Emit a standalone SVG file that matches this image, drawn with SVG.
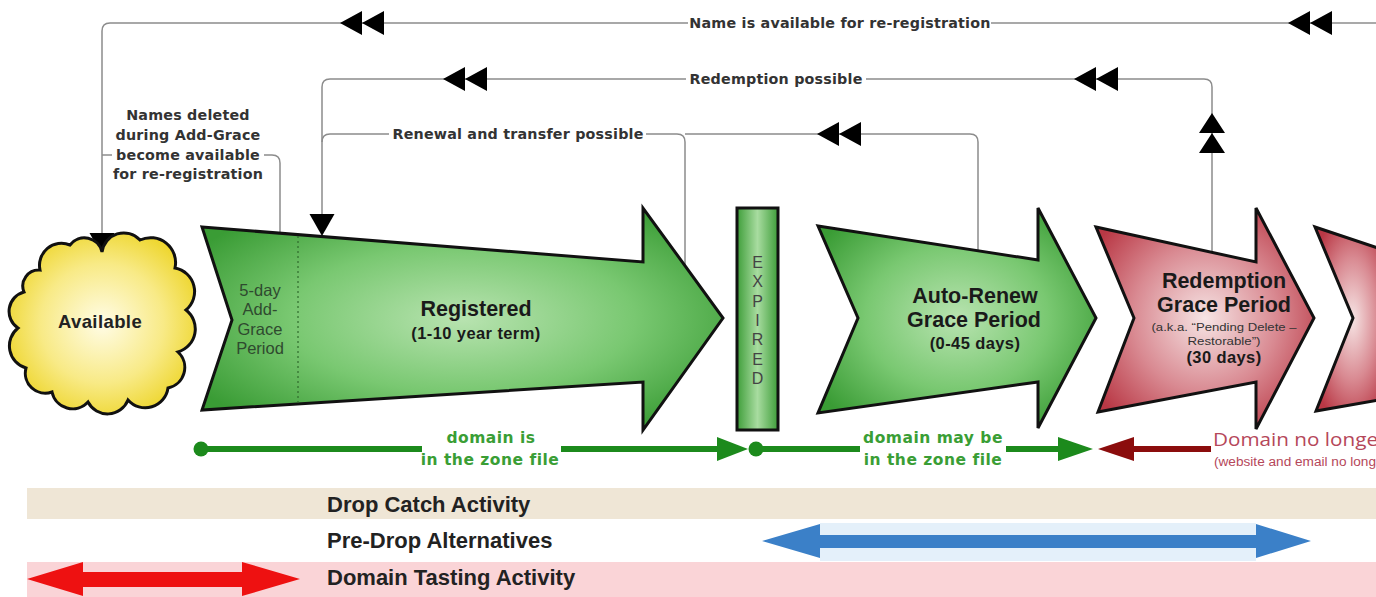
<svg xmlns="http://www.w3.org/2000/svg" width="1376" height="597" viewBox="0 0 1376 597">
<style>
.conn{fill:none;stroke:#8c8c8c;stroke-width:1.5}
.lbl{font-family:"DejaVu Sans",Verdana,sans-serif;font-weight:bold;font-size:14.3px;letter-spacing:0.2px;fill:#333;text-anchor:middle}
.shape{stroke:#111;stroke-width:3;stroke-linejoin:miter}
.big{font-family:"Liberation Sans",Arial,sans-serif;font-weight:bold;font-size:21.5px;fill:#1a1a1a;text-anchor:middle}
.sub{font-family:"Liberation Sans",Arial,sans-serif;font-weight:bold;font-size:16.5px;letter-spacing:0.4px;fill:#1a1a1a;text-anchor:middle}
.zone{font-family:"DejaVu Sans",Verdana,sans-serif;font-weight:bold;font-size:15.5px;letter-spacing:0.5px;fill:#3a9e35;text-anchor:middle}
.band{font-family:"Liberation Sans",Arial,sans-serif;font-weight:bold;font-size:22px;fill:#222}
.gl{stroke:#1c8a1c;stroke-width:6;fill:none}
</style>
<defs>
<radialGradient id="gGreen" cx="0.5" cy="0.5" r="0.6">
<stop offset="0" stop-color="#b8e3b0"/>
<stop offset="0.55" stop-color="#79c871"/>
<stop offset="1" stop-color="#3a9c35"/>
</radialGradient>
<radialGradient id="gRed" cx="0.5" cy="0.5" r="0.6">
<stop offset="0" stop-color="#f6e4e4"/>
<stop offset="0.55" stop-color="#d98a92"/>
<stop offset="1" stop-color="#b93845"/>
</radialGradient>
<radialGradient id="gCloud" cx="0.5" cy="0.5" r="0.55">
<stop offset="0" stop-color="#fffce6"/>
<stop offset="0.6" stop-color="#f8ea86"/>
<stop offset="1" stop-color="#eed62e"/>
</radialGradient>
<linearGradient id="gBar" x1="0" y1="0" x2="1" y2="0">
<stop offset="0" stop-color="#3f9e3a"/>
<stop offset="0.5" stop-color="#a8dca0"/>
<stop offset="1" stop-color="#3f9e3a"/>
</linearGradient>
<path id="dblL" d="M0,0 L22,-12 L22,12 Z M22,0 L44,-12 L44,12 Z" fill="#000"/>
<path id="dblU" d="M0,0 L-13,20 L13,20 Z M0,20 L-13,40 L13,40 Z" fill="#000"/>
<path id="downH" d="M0,0 L-12.5,-22 L12.5,-22 Z" fill="#000"/>
</defs>
<rect width="1376" height="597" fill="#fff"/>

<g id="bands">
<rect x="27" y="488" width="1349" height="31" fill="#efe6d6"/>
<rect x="820" y="523" width="436" height="38" fill="#e4f0fa"/>
<rect x="27" y="562" width="1349" height="35" fill="#fad4d7"/>
<text class="band" x="327" y="512">Drop Catch Activity</text>
<text class="band" x="327" y="548">Pre-Drop Alternatives</text>
<text class="band" x="327" y="585">Domain Tasting Activity</text>
<polygon points="762,541 820,524 820,535 1256,535 1256,524 1311,541 1256,558 1256,548 820,548 820,558" fill="#3b80c8"/>
<polygon points="27,579 83,562 83,572 242,572 242,562 300,579 242,596 242,587 83,587 83,596" fill="#ee1111"/>
</g>

<g id="connectors">
<path class="conn" d="M1376,23 H991"/>
<path class="conn" d="M688,23 H110 Q102,23 102,31 V234"/>
<path class="conn" d="M102,155 H112"/>
<path class="conn" d="M264,155 H272 Q280,155 280,163 V233"/>
<path class="conn" d="M1212,252 V87 Q1212,79 1204,79 H866"/>
<path class="conn" d="M686,79 H330 Q322,79 322,87 V215"/>
<path class="conn" d="M322,142 Q322,134 330,134 H389"/>
<path class="conn" d="M646,134 H677 Q685,134 685,142 V265"/>
<path class="conn" d="M685,134 H970 Q978,134 978,142 V250"/>
<use href="#dblL" x="340" y="23"/>
<use href="#dblL" x="1288" y="23"/>
<use href="#dblL" x="443" y="79"/>
<use href="#dblL" x="1074" y="79"/>
<use href="#dblL" x="817" y="134"/>
<use href="#dblU" x="1212" y="113"/>
<use href="#downH" x="102" y="255"/>
<use href="#downH" x="322" y="236"/>
<text class="lbl" x="840" y="28">Name is available for re-registration</text>
<text class="lbl" x="776" y="84">Redemption possible</text>
<text class="lbl" x="518" y="139">Renewal and transfer possible</text>
<text class="lbl" x="188" y="120">Names deleted</text>
<text class="lbl" x="188" y="140">during Add-Grace</text>
<text class="lbl" x="188" y="160">become available</text>
<text class="lbl" x="188" y="179">for re-registration</text>
</g>

<g id="available">
<path class="shape" fill="url(#gCloud)" d="M40,270 A22,22 0 0 1 70,245 A18,18 0 0 1 102,252 A22,22 0 0 1 140,240 A25,25 0 0 1 175,268 A24,24 0 0 1 186,310 A24,24 0 0 1 178,352 A21,21 0 0 1 168,388 A23,23 0 0 1 128,400 A22,22 0 0 1 88,402 A21,21 0 0 1 52,392 A20,20 0 0 1 26,368 A23,23 0 0 1 18,328 A20,20 0 0 1 24,292 A16,16 0 0 1 40,270 Z"/>
<text x="100" y="328" text-anchor="middle" font-family="Liberation Sans, Arial, sans-serif" font-weight="bold" font-size="18.5" letter-spacing="0.4" fill="#222">Available</text>
</g>

<g id="registered">
<path class="shape" fill="url(#gGreen)" d="M202,227 L643,262 L643,208 L723,318 L643,430 L643,382 L202,410 L232,320 Z"/>
<line x1="298" y1="236" x2="298" y2="403" stroke="#2f6a2c" stroke-width="1.2" stroke-dasharray="2,3"/>
<g font-family="Liberation Sans, Arial, sans-serif" font-size="16.5" fill="#2f4a2f" text-anchor="middle">
<text x="260" y="296">5-day</text>
<text x="260" y="315">Add-</text>
<text x="260" y="335">Grace</text>
<text x="260" y="354">Period</text>
</g>
<text class="big" x="476" y="316">Registered</text>
<text class="sub" x="476" y="339">(1-10 year term)</text>
</g>

<g id="expired">
<rect class="shape" x="737" y="208" width="41" height="222" fill="url(#gBar)"/>
<g font-family="Liberation Sans, Arial, sans-serif" font-size="16" fill="#444" text-anchor="middle">
<text x="757.5" y="268">E</text>
<text x="757.5" y="287">X</text>
<text x="757.5" y="307">P</text>
<text x="757.5" y="326">I</text>
<text x="757.5" y="345">R</text>
<text x="757.5" y="365">E</text>
<text x="757.5" y="384">D</text>
</g>
</g>

<g id="autorenew">
<path class="shape" fill="url(#gGreen)" d="M818,226 L1038,260 L1038,208 L1096,318 L1038,428 L1038,382 L818,413 L858,318 Z"/>
<text class="big" x="975" y="303">Auto-Renew</text>
<text class="big" x="974" y="327">Grace Period</text>
<text class="sub" x="975" y="349">(0-45 days)</text>
</g>

<g id="redemption">
<path class="shape" fill="url(#gRed)" d="M1096,227 L1256,262 L1256,208 L1314,318 L1256,429 L1256,382 L1098,412 L1134,318 Z"/>
<text class="big" x="1224" y="288">Redemption</text>
<text class="big" x="1224" y="312">Grace Period</text>
<text x="1224" y="331" text-anchor="middle" font-family="Liberation Sans, Arial, sans-serif" font-size="11" fill="#333" textLength="145" lengthAdjust="spacingAndGlyphs">(a.k.a. “Pending Delete –</text>
<text x="1224" y="345" text-anchor="middle" font-family="Liberation Sans, Arial, sans-serif" font-size="11" fill="#333" textLength="73" lengthAdjust="spacingAndGlyphs">Restorable”)</text>
<text class="sub" x="1224" y="363" font-size="17">(30 days)</text>
</g>

<g id="pending-delete">
<path class="shape" fill="url(#gRed)" d="M1315,227 L1390,252 L1390,398 L1316,411 L1353,318 Z"/>
</g>

<g id="zone-lines">
<circle cx="201" cy="449" r="7.5" fill="#1c8a1c"/>
<line class="gl" x1="201" y1="449" x2="422" y2="449"/>
<text class="zone" x="491" y="443">domain is</text>
<text class="zone" x="490" y="465">in the zone file</text>
<line class="gl" x1="561" y1="449" x2="720" y2="449"/>
<polygon points="748,449 717,437 717,461" fill="#1c8a1c"/>
<circle cx="756" cy="449" r="7.5" fill="#1c8a1c"/>
<line class="gl" x1="756" y1="449" x2="860" y2="449"/>
<text class="zone" x="933" y="443">domain may be</text>
<text class="zone" x="933" y="465">in the zone file</text>
<line class="gl" x1="1006" y1="449" x2="1060" y2="449"/>
<polygon points="1093,449 1058,437 1058,461" fill="#1c8a1c"/>
<polygon points="1098,449 1134,437 1134,461" fill="#8b0d0d"/>
<line x1="1132" y1="449" x2="1211" y2="449" stroke="#8b0d0d" stroke-width="6"/>
<text x="1213" y="446" font-family="Open Sans, Liberation Sans, sans-serif" font-size="19" fill="#b5475a" textLength="165" lengthAdjust="spacingAndGlyphs">Domain no longe</text>
<text x="1214" y="466" font-family="Liberation Sans, Arial, sans-serif" font-size="12.5" fill="#b5475a" textLength="162" lengthAdjust="spacingAndGlyphs">(website and email no long</text>
</g>
</svg>
